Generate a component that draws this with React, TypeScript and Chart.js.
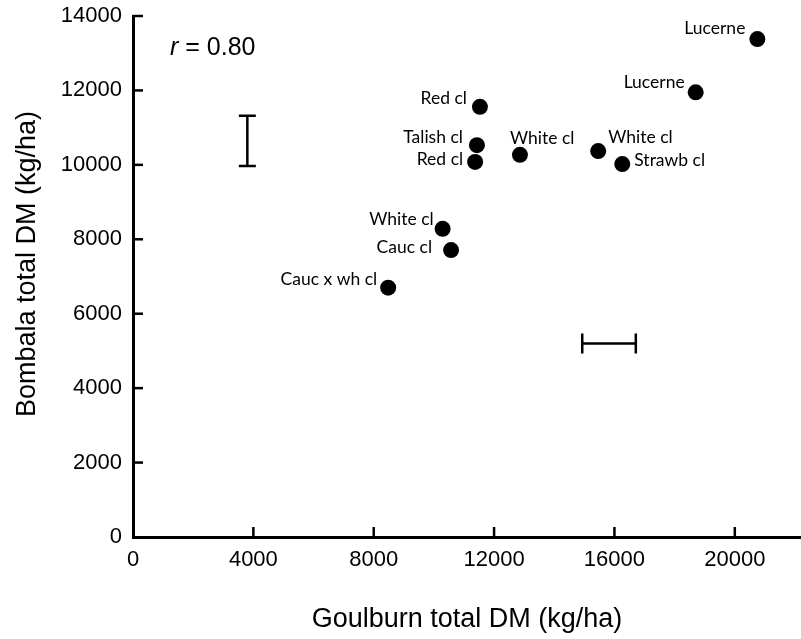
import React, { useEffect, useRef } from 'react';
import { Chart, registerables } from 'chart.js';

Chart.register(...registerables);

// ---- data ----
const cropNames = ['Lucerne', 'Lucerne', 'Red cl', 'Talish cl', 'Red cl', 'White cl', 'White cl', 'Strawb cl', 'White cl', 'Cauc cl', 'Cauc x wh cl'];
const goulburnDM = [20750, 18700, 11530, 11430, 11370, 12860, 15460, 16260, 10290, 10570, 8480];
const bombalaDM = [13380, 11950, 11560, 10530, 10080, 10270, 10370, 10020, 8280, 7710, 6700];
const xTicks = [0, 4000, 8000, 12000, 16000, 20000];
const yTicks = [0, 2000, 4000, 6000, 8000, 10000, 12000, 14000];
const bombalaBarX = [3800];
const bombalaBarRange = [9970, 11320];
const goulburnBarY = [5200];
const goulburnBarRange = [14930, 16710];
const correlationText = '0.80';
const xTitle = 'Goulburn total DM (kg/ha)';
const yTitle = 'Bombala total DM (kg/ha)';

// ---- label placement (style) ----
const labelPlacement: { align: CanvasTextAlign; dx: number; dy: number }[] = [
  { align: 'right', dx: -12, dy: -5 },
  { align: 'right', dx: -11, dy: -4 },
  { align: 'right', dx: -13, dy: -3 },
  { align: 'right', dx: -14, dy: -2 },
  { align: 'right', dx: -12, dy: 3 },
  { align: 'left', dx: -10, dy: -11 },
  { align: 'left', dx: 10, dy: -8 },
  { align: 'left', dx: 12, dy: 2 },
  { align: 'right', dx: -9, dy: -4 },
  { align: 'right', dx: -19, dy: 3 },
  { align: 'right', dx: -11, dy: -3 },
];

const ARIAL = '"Liberation Sans", Arial, sans-serif';
const LABEL_FONT = '17.5px Lato, "Open Sans", sans-serif';

const zeroPadding = (s: any) => {
  s.paddingLeft = 0;
  s.paddingRight = 0;
  s.paddingTop = 0;
  s.paddingBottom = 0;
};

const overlayPlugin = {
  id: 'overlay',
  afterDraw(chart: any) {
    const { ctx, scales, chartArea } = chart;
    const x = scales.x;
    const y = scales.y;
    ctx.save();
    ctx.strokeStyle = '#000';
    ctx.fillStyle = '#000';
    ctx.lineCap = 'butt';

    // inward tick marks
    ctx.lineWidth = 2.5;
    x.ticks.forEach((t: any) => {
      if (t.value === 0) return;
      const px = x.getPixelForValue(t.value);
      ctx.beginPath();
      ctx.moveTo(px, chartArea.bottom);
      ctx.lineTo(px, chartArea.bottom - 10);
      ctx.stroke();
    });
    y.ticks.forEach((t: any) => {
      if (t.value === 0) return;
      const py = y.getPixelForValue(t.value);
      ctx.beginPath();
      ctx.moveTo(chartArea.left, py);
      ctx.lineTo(chartArea.left + 10, py);
      ctx.stroke();
    });

    // error bars
    ctx.lineWidth = 2.5;
    const vx = x.getPixelForValue(bombalaBarX[0]);
    const vy1 = y.getPixelForValue(bombalaBarRange[0]);
    const vy2 = y.getPixelForValue(bombalaBarRange[1]);
    ctx.beginPath();
    ctx.moveTo(vx, vy1); ctx.lineTo(vx, vy2);
    ctx.moveTo(vx - 8.5, vy1); ctx.lineTo(vx + 8.5, vy1);
    ctx.moveTo(vx - 8.5, vy2); ctx.lineTo(vx + 8.5, vy2);
    ctx.stroke();
    const hy = y.getPixelForValue(goulburnBarY[0]);
    const hx1 = x.getPixelForValue(goulburnBarRange[0]);
    const hx2 = x.getPixelForValue(goulburnBarRange[1]);
    ctx.beginPath();
    ctx.moveTo(hx1, hy); ctx.lineTo(hx2, hy);
    ctx.moveTo(hx1, hy - 10); ctx.lineTo(hx1, hy + 10);
    ctx.moveTo(hx2, hy - 10); ctx.lineTo(hx2, hy + 10);
    ctx.stroke();

    // point labels
    const meta = chart.getDatasetMeta(0);
    ctx.font = LABEL_FONT;
    ctx.textBaseline = 'alphabetic';
    meta.data.forEach((pt: any, i: number) => {
      const p = labelPlacement[i];
      ctx.textAlign = p.align;
      ctx.fillText(cropNames[i], pt.x + p.dx, pt.y + p.dy);
    });

    // r = 0.80
    ctx.textAlign = 'left';
    ctx.font = 'italic 25px ' + ARIAL;
    ctx.fillText('r', 170, 55);
    const rw = ctx.measureText('r').width;
    ctx.font = '25px ' + ARIAL;
    ctx.fillText(' = ' + correlationText, 170 + rw, 55);

    // y title
    ctx.save();
    ctx.translate(28, 264);
    ctx.rotate(-Math.PI / 2);
    ctx.font = '27px ' + ARIAL;
    ctx.textAlign = 'center';
    ctx.textBaseline = 'middle';
    ctx.fillText(yTitle, 0, 0);
    ctx.restore();

    ctx.restore();
  },
};

export default function App() {
  const canvasRef = useRef<HTMLCanvasElement | null>(null);

  useEffect(() => {
    document.body.style.margin = '0';
    const canvas = canvasRef.current;
    if (!canvas) return;
    const chart = new Chart(canvas, {
      type: 'scatter',
      data: {
        datasets: [
          {
            label: 'Forage DM',
            data: goulburnDM.map((v, i) => ({ x: v, y: bombalaDM[i] })),
            pointRadius: 8,
            pointHoverRadius: 8,
            pointBackgroundColor: '#000',
            pointBorderColor: '#000',
            pointBorderWidth: 0,
            clip: false,
          },
        ],
      },
      options: {
        responsive: false,
        animation: false,
        devicePixelRatio: 1,
        layout: { autoPadding: false, padding: { top: 16, left: 0, right: 0, bottom: 0 } },
        plugins: {
          legend: { display: false },
          tooltip: { enabled: false },
        },
        scales: {
          x: {
            type: 'linear',
            min: 0,
            max: 22200,
            afterBuildTicks: (s: any) => {
              s.ticks = xTicks.map((v) => ({ value: v }));
            },
            afterFit: (s: any) => {
              s.height = 102;
              zeroPadding(s);
            },
            grid: { drawOnChartArea: false, drawTicks: false },
            border: { display: true, color: '#000', width: 3 },
            ticks: {
              color: '#000',
              font: { family: ARIAL, size: 22 },
              padding: 10,
              maxRotation: 0,
              autoSkip: false,
              callback: (v: any) => String(v),
            },
            title: {
              display: true,
              text: xTitle,
              color: '#000',
              font: { family: ARIAL, size: 27 },
              padding: { top: 0, bottom: 3 },
            },
          },
          y: {
            type: 'linear',
            min: 0,
            max: 14000,
            afterBuildTicks: (s: any) => {
              s.ticks = yTicks.map((v) => ({ value: v }));
            },
            afterFit: (s: any) => {
              s.width = 133;
              zeroPadding(s);
            },
            grid: { drawOnChartArea: false, drawTicks: false },
            border: { display: true, color: '#000', width: 3 },
            ticks: {
              color: '#000',
              font: { family: ARIAL, size: 22 },
              padding: 11,
              autoSkip: false,
              callback: (v: any) => String(v),
            },
          },
        },
      },
      plugins: [overlayPlugin],
    } as any);
    return () => chart.destroy();
  }, []);

  return (
    <div style={{ width: 801, height: 639 }}>
      <canvas ref={canvasRef} width={801} height={639} style={{ display: 'block', width: 801, height: 639 }} />
    </div>
  );
}
